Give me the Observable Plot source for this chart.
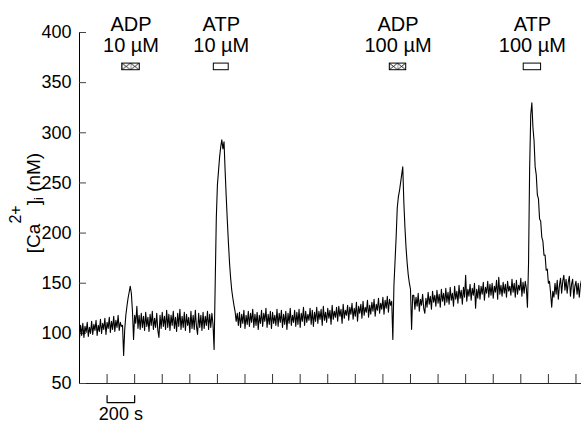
<!DOCTYPE html>
<html><head><meta charset="utf-8">
<script src="https://cdn.jsdelivr.net/npm/d3@7"></script>
<script src="https://cdn.jsdelivr.net/npm/@observablehq/plot@0.6"></script>
<style>body{margin:0;background:#fff} svg{display:block}</style>
</head><body><div id="chart"></div>
<script>
// ---- data ----
const sampleInterval = 8; // seconds between samples
const baseline1 = [95,108,98,110,96,107,101,111,97,106,100,112,99,109,103,113,98,108,102,114,100,110,104,115,99,111,105,116,101,112,104,117,102,113,106,118,103,111,107];
const adp10Response = [108,78,104,118,127,135,141,147,140,122,94,118,110];
const baseline2 = [127,105,118,104,120,106,117,103,121,107,116,102,119,108,122,104,115,106,120,103,96,118,105,121,107,117,104,123,106,119,103,118,108,122,105,116,102,120,107,124,104,117,106,121,103,119,108,116,101,122,105,118,104,123,107,99,120,106,118,103,121,105,117,108,122,104,119,106,120,109];
const atp10Response = [84,150,215,248,262,276,286,293,284,291,262,236,212,190,170,155,143,135,128,122,112,120];
const baseline3 = [108,121,106,119,110,123,105,118,109,122,107,120,111,124,106,119,108,121,104,118,110,123,107,120,112,125,106,119,109,122,105,121,110,118,108,124,107,120,111,123,106,119,109,122,104,120,110,125,108,118,111,123,107,121,109,124,106,120,112,126,108,122,111,119,113,125,109,123,107,121,112,126,110,122,114,124,108,127,113,121,111,125,115,123,109,128,114,122,116,126,112,127,117,124,110,129,115,123,118,128,113,126,119,130,114,125,117,131,112,127,120,129,115,132,118,126,121,133,116,128,119,131,122,134,117,129,123,135,120,130,124,136,119,133,125,137,121,134,128,132];
const adp100Response = [94,148,172,196,225,236,242,250,258,266,230,205,185,170,158,150,144,104,138];
const baseline4 = [138,124,136,127,140,122,134,128,139,125,120,135,126,141,129,137,124,142,131,138,127,143,130,139,126,144,132,140,128,145,131,141,129,146,133,140,127,147,134,142,130,148,135,143,129,146,136,158,132,144,137,149,133,145,138,150,125,144,135,148,134,147,139,151,133,146,140,152,136,149,138,150,135,147,141,153,134,156,139,148,137,151,140,149,136,152,142,147,138,154,141,150,136,153,139,148,143,155,137,151,140,152,145];
const atp100Response = [126,170,265,318,330,305,292,266,258,238,234,214,212,196,192,178,178,163,164,150,152,140,126,142];
const baseline5 = [136,150,139,153,134,148,155,140,152,158,143,154,140,151,157,137,149,154,135,147,152,139,150,136,148,153];

const yTicks = [50, 100, 150, 200, 250, 300, 350, 400];
const xTicks = [200,400,600,800,1000,1200,1400,1600,1800,2000,2200,2400,2600,2800,3000,3200,3400,3600];
const drugs = ["ADP", "ATP", "ADP", "ATP"];
const concentrations = ["10 µM", "10 µM", "100 µM", "100 µM"];
const applyStart = [310, 974, 2250, 3221];
const applyEnd = [437, 1082, 2369, 3347];
const scaleBar = {start: 200, end: 400, label: "200 s"};

// ---- build ----
const trace = [].concat(baseline1, adp10Response, baseline2, atp10Response, baseline3,
  adp100Response, baseline4, atp100Response, baseline5)
  .map((v, i) => ({t: i * sampleInterval, ca: v}));
let adpCount = 0;
const boxes = drugs.map((d, i) => ({
  drug: d, conc: concentrations[i], start: applyStart[i], end: applyEnd[i],
  mid: (applyStart[i] + applyEnd[i]) / 2,
  fill: d === "ADP" ? `url(#xhatch${adpCount++})` : "white"
}));

const W = 581, H = 424, ML = 79, MR = 0, MT = 32, MB = 41;
const font = "'Liberation Sans', Arial, Helvetica, sans-serif";
const plot = Plot.plot({
  width: W, height: H, marginLeft: ML, marginRight: MR, marginTop: MT, marginBottom: MB,
  x: {domain: [0, 3640], axis: null},
  y: {domain: [50, 400], axis: null},
  color: {type: "identity"},
  style: {fontFamily: font, color: "black", background: "white", fontSize: "18px"},
  marks: [
    Plot.ruleX([0], {stroke: "black", strokeWidth: 1}),
    Plot.ruleY([50], {stroke: "#222", strokeWidth: 1}),
    Plot.tickY(yTicks, {y: d => d, stroke: "#444", insetRight: (W - ML - MR) - 7}),
    Plot.tickX(xTicks, {x: d => d, stroke: "#333", insetTop: (H - MT - MB) - 9}),
    Plot.axisY(yTicks, {anchor: "left", tickSize: 0, tickPadding: 8, fontSize: 18, label: null}),
    Plot.line(trace, {x: "t", y: "ca", stroke: "black", strokeWidth: 1.1}),
    Plot.rect(boxes, {x1: "start", x2: "end", y1: 362.4, y2: 369, fill: "fill", stroke: "black", strokeWidth: 1}),
    Plot.text(boxes, {x: "mid", y: 380.7, text: d => d.drug + "\n" + d.conc, lineAnchor: "bottom",
      lineHeight: 1.03, fontSize: 20, fill: "black"}),
    Plot.line([{t: scaleBar.start, v: 38}, {t: scaleBar.start, v: 31}, {t: scaleBar.end, v: 31}, {t: scaleBar.end, v: 38}],
      {x: "t", y: "v", stroke: "black", strokeWidth: 1.2}),
    Plot.text([scaleBar], {x: d => (d.start + d.end) / 2, y: 14, text: "label", lineAnchor: "bottom", fontSize: 18, fill: "black"})
  ]
});

const svg = d3.select(plot);
// make sure y tick labels use the intended size
svg.selectAll('g[aria-label="y-axis tick label"]').attr("font-size", 18)
  .selectAll("text").attr("font-size", 18);

// hatch patterns for ADP boxes
const xs = plot.scale("x"), ys = plot.scale("y");
const defs = svg.insert("defs", ":first-child");
boxes.filter(b => b.drug === "ADP").forEach((b, k) => {
  const x0 = xs.apply(b.start), x1 = xs.apply(b.end);
  const yt = ys.apply(369), yb = ys.apply(362.4);
  const w = (x1 - x0) / 2, h = yb - yt;
  const p = defs.append("pattern").attr("id", "xhatch" + k).attr("patternUnits", "userSpaceOnUse")
    .attr("x", x0).attr("y", yt).attr("width", w).attr("height", h);
  p.append("rect").attr("width", w).attr("height", h).attr("fill", "white");
  p.append("path").attr("d", `M0,0L${w},${h}M0,${h}L${w},0M0,0L0,${h}`).attr("stroke", "black").attr("stroke-width", 0.8).attr("fill", "none");
});

// y-axis title with super/subscripts
const lab = svg.append("text").attr("transform", "translate(40,203) rotate(-90)")
  .attr("text-anchor", "middle").attr("font-size", 19).attr("font-family", font).attr("fill", "black");
lab.append("tspan").text("[Ca");
lab.append("tspan").attr("font-size", 16).attr("dy", -19).text("2+");
lab.append("tspan").attr("dy", 19).text("]");
lab.append("tspan").attr("font-size", 13).attr("dy", 3).text("i");
lab.append("tspan").attr("dy", -3).text(" (nM)");

document.getElementById("chart").appendChild(plot);
</script>
</body></html>
